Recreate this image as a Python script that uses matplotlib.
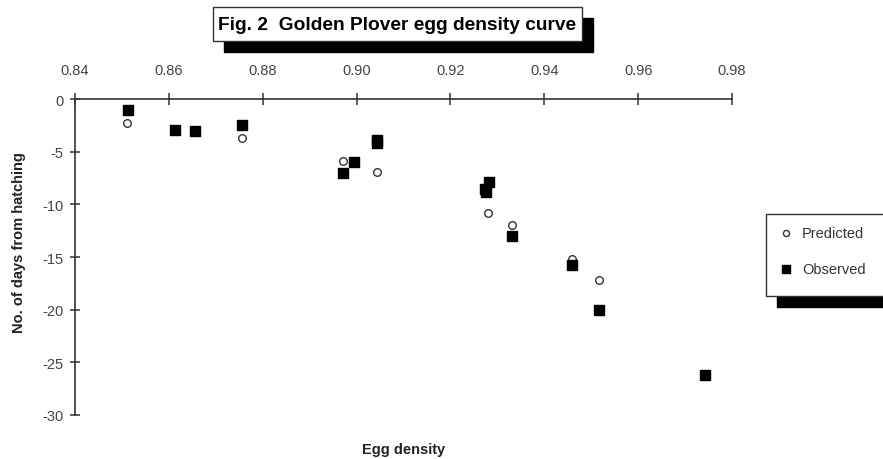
import matplotlib.pyplot as plt
from matplotlib.patches import Rectangle

plt.rcParams['font.family'] = ['Liberation Sans', 'DejaVu Sans']
plt.rcParams['axes.unicode_minus'] = False

# egg density vs days from hatching
pred_density = [0.8511, 0.8755, 0.8972, 0.9044, 0.9280, 0.9331, 0.9459, 0.9516]
pred_days = [-2.3, -3.7, -5.9, -6.9, -10.8, -12.0, -15.2, -17.2]

obs_density = [0.8513, 0.8613, 0.8655, 0.8755, 0.8972, 0.8994, 0.9044, 0.9044,
               0.9282, 0.9274, 0.9276, 0.9331, 0.9459, 0.9516, 0.9743]
obs_days = [-1.0, -2.9, -3.0, -2.5, -7.0, -6.0, -3.85, -4.15,
            -7.9, -8.5, -8.8, -13.0, -15.8, -20.0, -26.2]

x_ticks = [0.84, 0.86, 0.88, 0.90, 0.92, 0.94, 0.96, 0.98]
y_ticks = [0, -5, -10, -15, -20, -25, -30]

W, H = 883, 460
fig = plt.figure(figsize=(W / 100, H / 100), dpi=100)


def fx(x):
    return x / W


def fy(y):
    return 1 - y / H


ax = fig.add_axes([fx(75), fy(416), fx(732) - fx(75), fy(100) - fy(416)])

ax.scatter(pred_density, pred_days, marker='o', s=30, facecolors='white',
           edgecolors='#333333', linewidths=1.0, zorder=3, label='Predicted')
ax.scatter(obs_density, obs_days, marker='s', s=55, color='black',
           zorder=4, label='Observed')

ax.set_xlim(0.84, 0.98)
ax.set_ylim(-30, 0)
ax.set_xticks(x_ticks)
ax.set_xticklabels(['%.2f' % v for v in x_ticks])
ax.set_yticks(y_ticks)

for s in ['right', 'bottom']:
    ax.spines[s].set_visible(False)
for s in ['left', 'top']:
    ax.spines[s].set_linewidth(1.2)
    ax.spines[s].set_color('#333333')

ax.xaxis.tick_top()
ax.tick_params(axis='x', direction='inout', length=8, width=1.1, pad=12,
               labelsize=10.5, labelcolor='#444444', color='#333333')
ax.tick_params(axis='y', direction='inout', length=7, width=1.1, pad=5,
               labelsize=10.5, labelcolor='#444444', color='#333333')

ax.set_ylabel('No. of days from hatching', fontsize=10.5, fontweight='bold',
              color='#222222')
ax.yaxis.set_label_coords(-0.075, 0.55)
fig.text(fx(404), fy(450), 'Egg density', ha='center', va='center',
         fontsize=10.5, fontweight='bold', color='#222222')

# title box with drop shadow
fig.patches.append(Rectangle((fx(224), fy(53)), fx(369), fy(0) - fy(34),
                             transform=fig.transFigure, color='black', zorder=1))
fig.patches.append(Rectangle((fx(213), fy(42)), fx(369), fy(0) - fy(34),
                             transform=fig.transFigure, facecolor='white',
                             edgecolor='#333333', linewidth=1.0, zorder=2))
fig.text(fx(397), fy(25), 'Fig. 2  Golden Plover egg density curve',
         ha='center', va='center', fontsize=13.8, fontweight='bold', zorder=3)

# legend box with drop shadow
fig.patches.append(Rectangle((fx(777), fy(308)), fx(130), fy(0) - fy(82),
                             transform=fig.transFigure, color='black', zorder=1))
fig.patches.append(Rectangle((fx(766), fy(297)), fx(130), fy(0) - fy(82),
                             transform=fig.transFigure, facecolor='white',
                             edgecolor='#333333', linewidth=1.0, zorder=2))
handles, labels = ax.get_legend_handles_labels()
leg = fig.legend(handles, labels, loc='center left',
                 bbox_to_anchor=(fx(767), fy(252)), frameon=False,
                 fontsize=10.5, handlelength=0.8, handletextpad=0.7,
                 labelspacing=1.5, markerscale=0.8)
leg.set_zorder(5)
for t in leg.get_texts():
    t.set_color('#333333')

fig.savefig('out.png', dpi=100)
